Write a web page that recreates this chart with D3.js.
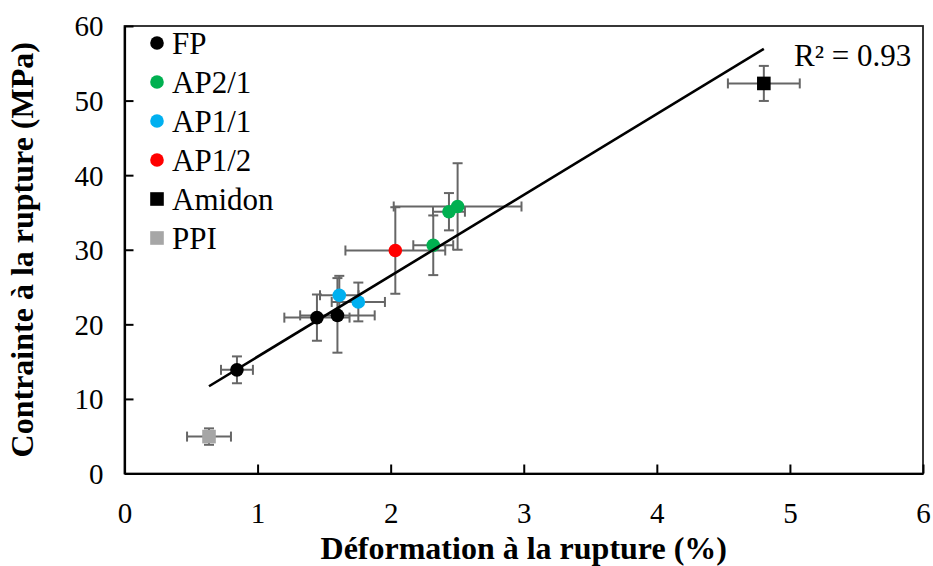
<!DOCTYPE html>
<html><head><meta charset="utf-8">
<script src="https://cdn.jsdelivr.net/npm/d3@7"></script>
<style>body{margin:0;background:#fff}svg{display:block}</style>
</head><body><svg id="c" width="933" height="566" font-family="Liberation Serif"></svg>
<script>
// ---- data ----
const seriesNames = ["FP", "AP2/1", "AP1/1", "AP1/2", "Amidon", "PPI"];
const seriesShapes = ["circle", "circle", "circle", "circle", "square", "square"];
const seriesColors = ["#000000", "#00b050", "#00b0f0", "#ff0000", "#000000", "#a6a6a6"];

const strainFP = [0.845, 1.446, 1.60];
const stressFP = [13.9, 20.9, 21.2];
const strainErrFP = [0.12, 0.245, 0.28];
const stressErrFP = [1.8, 3.1, 5.0];

const strainAP21 = [2.32, 2.438, 2.503];
const stressAP21 = [30.6, 35.1, 35.8];
const strainErrAP21 = [0.15, 0.12, 0.48];
const stressErrAP21 = [4.0, 2.5, 5.8];

const strainAP11 = [1.614, 1.757];
const stressAP11 = [23.9, 23.0];
const strainErrAP11 = [0.145, 0.2];
const stressErrAP11 = [2.6, 2.6];

const strainAP12 = [2.035];
const stressAP12 = [29.9];
const strainErrAP12 = [0.375];
const stressErrAP12 = [5.8];

const strainAmidon = [4.804];
const stressAmidon = [52.3];
const strainErrAmidon = [0.27];
const stressErrAmidon = [2.35];

const strainPPI = [0.635];
const stressPPI = [4.95];
const strainErrPPI = [0.165];
const stressErrPPI = [1.1];

const xTicks = [0, 1, 2, 3, 4, 5, 6];
const yTicks = [0, 10, 20, 30, 40, 50, 60];
const xTitle = "Déformation à la rupture (%)";
const yTitle = "Contrainte à la rupture (MPa)";

// ---- build ----
const FONT = "Liberation Serif";
const allX = [strainFP, strainAP21, strainAP11, strainAP12, strainAmidon, strainPPI];
const allY = [stressFP, stressAP21, stressAP11, stressAP12, stressAmidon, stressPPI];
const allXe = [strainErrFP, strainErrAP21, strainErrAP11, strainErrAP12, strainErrAmidon, strainErrPPI];
const allYe = [stressErrFP, stressErrAP21, stressErrAP11, stressErrAP12, stressErrAmidon, stressErrPPI];
const series = seriesNames.map((n, i) => ({
  name: n, shape: seriesShapes[i], color: seriesColors[i],
  pts: allX[i].map((x, j) => ({x, y: allY[i][j], xe: allXe[i][j], ye: allYe[i][j]}))
}));
const pts = series.flatMap(s => s.pts);

// linear regression
const mx = d3.mean(pts, d => d.x), my = d3.mean(pts, d => d.y);
const sxy = d3.sum(pts, d => (d.x - mx) * (d.y - my));
const sxx = d3.sum(pts, d => (d.x - mx) ** 2);
const syy = d3.sum(pts, d => (d.y - my) ** 2);
const slope = sxy / sxx, icpt = my - slope * mx;
const r2 = sxy * sxy / (sxx * syy);

const L = 124.5, R = 923, T = 26, B = 473.5;
const x = d3.scaleLinear().domain([0, 6]).range([L, R]);
const y = d3.scaleLinear().domain([0, 60]).range([B, T]);
const svg = d3.select("#c");

// frame
svg.append("rect").attr("x", L).attr("y", T).attr("width", R - L).attr("height", B - T)
  .attr("fill", "none").attr("stroke", "#222").attr("stroke-width", 1.8);

// axes
const xa = svg.append("g").attr("transform", `translate(0,${B})`)
  .call(d3.axisBottom(x).tickValues(xTicks).tickSizeInner(-9).tickSizeOuter(0).tickPadding(49).tickFormat(d3.format("d")));
const ya = svg.append("g").attr("transform", `translate(${L},0)`)
  .call(d3.axisLeft(y).tickValues(yTicks).tickSizeInner(-9).tickSizeOuter(0).tickPadding(21).tickFormat(d3.format("d")));
[xa, ya].forEach(g => {
  g.attr("font-family", FONT).attr("font-size", 29);
  g.select(".domain").attr("stroke", "#000").attr("stroke-width", 2.2);
  g.selectAll(".tick line").attr("stroke", "#000").attr("stroke-width", 2);
  g.selectAll(".tick text").attr("fill", "#000").attr("font-family", FONT).attr("font-size", 29);
});
xa.selectAll(".tick text").attr("dy", "0");
ya.selectAll(".tick text").attr("dy", "0.34em");

// titles
svg.append("text").attr("x", (L + R) / 2).attr("y", 559).attr("text-anchor", "middle")
  .attr("font-family", FONT).attr("font-size", 32).attr("font-weight", "bold").text(xTitle);
svg.append("text").attr("transform", `translate(33,${(T + B) / 2}) rotate(-90)`).attr("text-anchor", "middle")
  .attr("font-family", FONT).attr("font-size", 32).attr("font-weight", "bold").text(yTitle);

// error bars
const eb = svg.append("g").attr("stroke", "#666").attr("stroke-width", 2).attr("fill", "none");
const cap = 5;
pts.forEach(d => {
  eb.append("line").attr("x1", x(d.x - d.xe)).attr("x2", x(d.x + d.xe)).attr("y1", y(d.y)).attr("y2", y(d.y));
  eb.append("line").attr("x1", x(d.x)).attr("x2", x(d.x)).attr("y1", y(d.y - d.ye)).attr("y2", y(d.y + d.ye));
  [d.x - d.xe, d.x + d.xe].forEach(v => eb.append("line").attr("x1", x(v)).attr("x2", x(v)).attr("y1", y(d.y) - cap).attr("y2", y(d.y) + cap));
  [d.y - d.ye, d.y + d.ye].forEach(v => eb.append("line").attr("y1", y(v)).attr("y2", y(v)).attr("x1", x(d.x) - cap).attr("x2", x(d.x) + cap));
});

// markers
const mk = svg.append("g");
function marker(g, shape, color, cx, cy) {
  if (shape === "circle") g.append("circle").attr("cx", cx).attr("cy", cy).attr("r", 6.8).attr("fill", color);
  else g.append("rect").attr("x", cx - 6.8).attr("y", cy - 6.8).attr("width", 13.6).attr("height", 13.6).attr("fill", color);
}
series.forEach(s => s.pts.forEach(d => marker(mk, s.shape, s.color, x(d.x), y(d.y))));

// trendline
const xmin = d3.min(pts, d => d.x), xmax = d3.max(pts, d => d.x);
svg.append("line").attr("x1", x(xmin)).attr("y1", y(icpt + slope * xmin))
  .attr("x2", x(xmax)).attr("y2", y(icpt + slope * xmax))
  .attr("stroke", "#000").attr("stroke-width", 2.6);

svg.append("text").attr("x", 794).attr("y", 66).attr("font-family", FONT).attr("font-size", 31)
  .text(`R² = ${r2.toFixed(2)}`);

// legend
const lg = svg.append("g");
series.forEach((s, i) => {
  const cy = 43 + i * 39;
  marker(lg, s.shape, s.color, 157, cy);
  lg.append("text").attr("x", 172).attr("y", cy).attr("dy", "0.34em")
    .attr("font-family", FONT).attr("font-size", 31).text(s.name);
});
</script></body></html>
